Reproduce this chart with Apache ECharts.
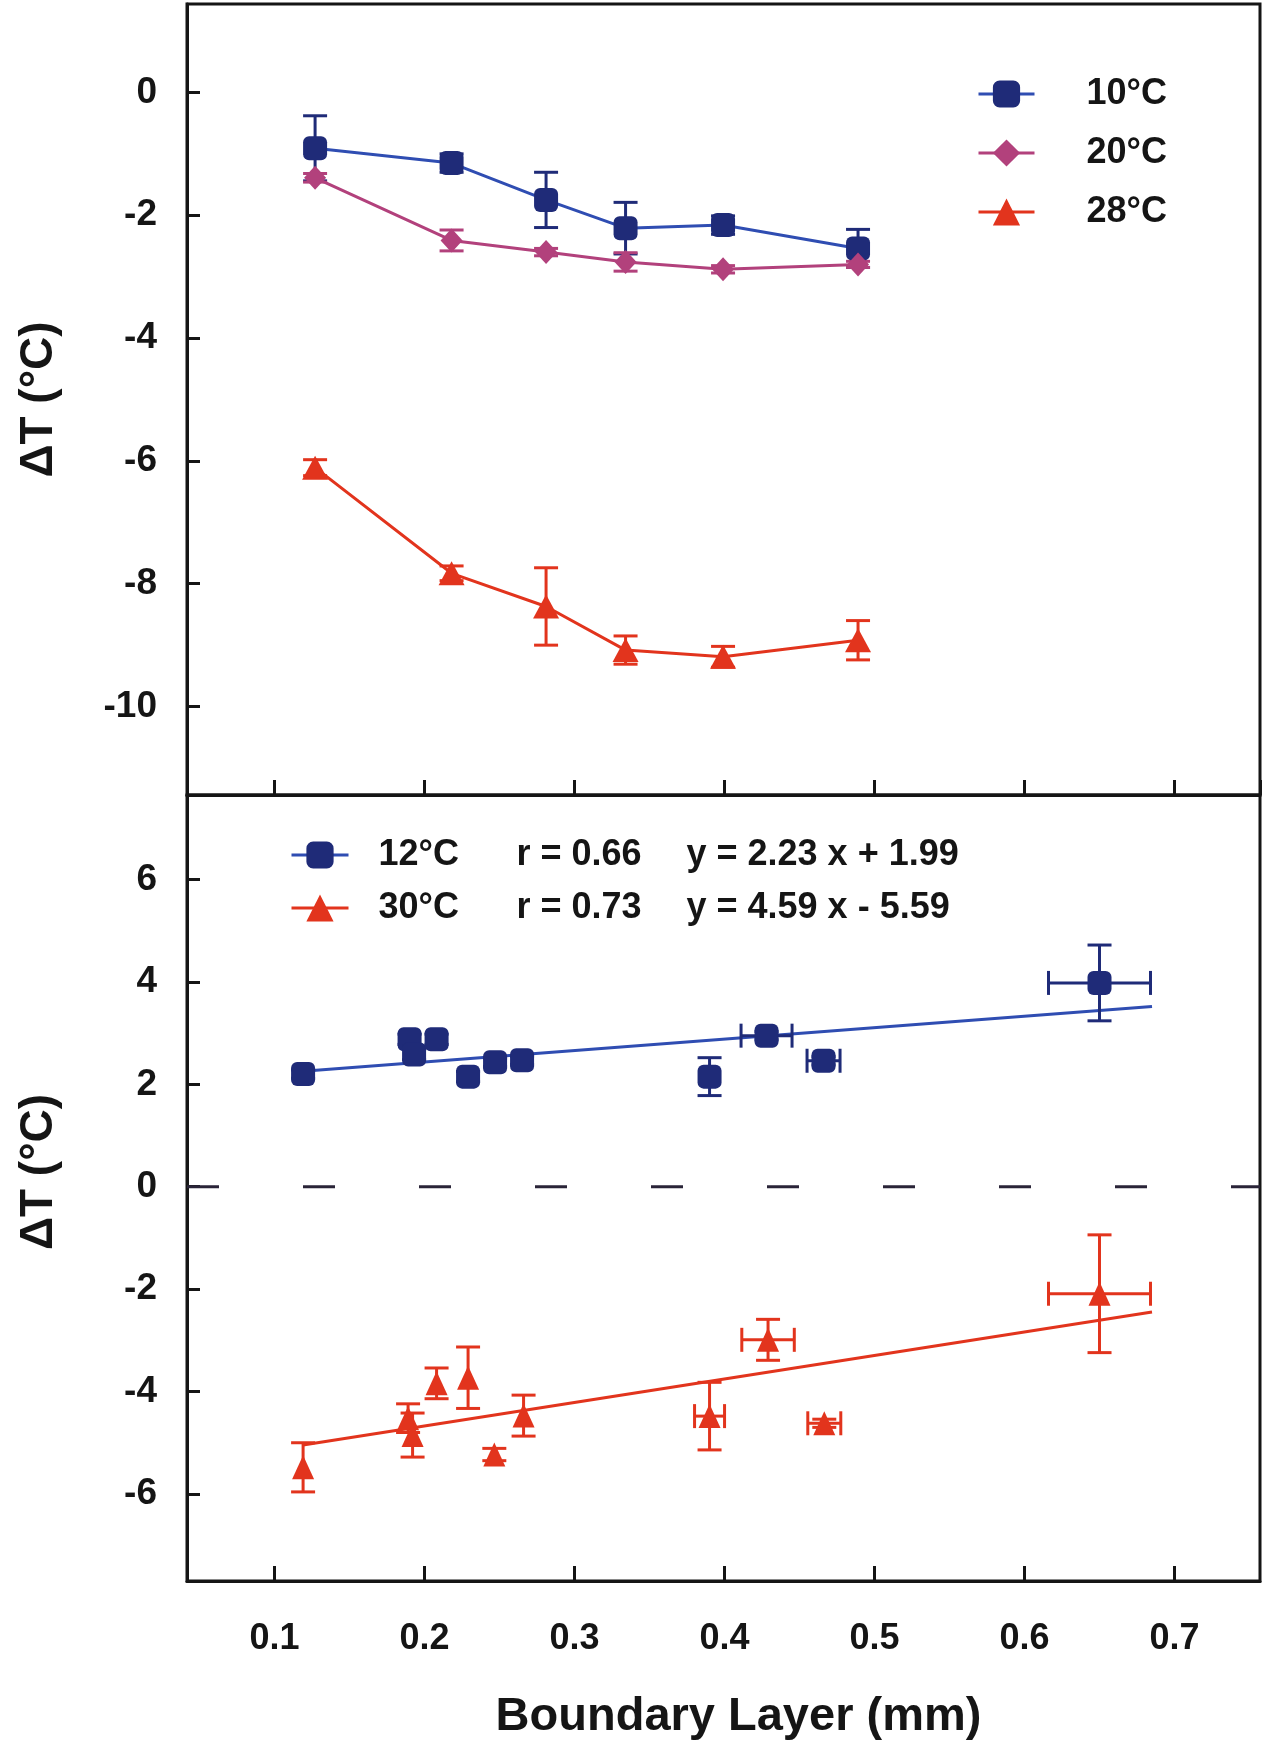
<!DOCTYPE html>
<html>
<head>
<meta charset="utf-8">
<script src="https://cdn.jsdelivr.net/npm/echarts@6/dist/echarts.min.js"></script>
<style>
html, body { margin: 0; padding: 0; background: #fff; }
#main { width: 1265px; height: 1742px; }
</style>
</head>
<body>
<div id="main"></div>
<script>
var FONT = '"Liberation Sans", Arial, Helvetica, sans-serif';

// top panel: mean dT per boundary layer, three water temps
var topNames = ['10°C', '20°C', '28°C'];
var topX = [0.127, 0.218, 0.281, 0.334, 0.399, 0.489];
var t10 = [-0.91, -1.15, -1.75, -2.21, -2.16, -2.54];
var t10Err = [0.53, 0.15, 0.45, 0.42, 0.15, 0.31];
var t20 = [-1.39, -2.41, -2.60, -2.76, -2.88, -2.80];
var t20Err = [0.07, 0.17, 0.06, 0.15, 0.06, 0.05];
var t28 = [-6.11, -7.83, -8.37, -9.08, -9.19, -8.92];
var t28Err = [0.13, 0.12, 0.63, 0.23, 0.17, 0.32];

// bottom panel: individual points + linear fits
var fitNames = ['12°C', '30°C'];
var rValues = [0.66, 0.73];
var slopes = [2.23, 4.59];
var intercepts = [1.99, -5.59];
var fitX = [0.119, 0.685];

var b12X = [0.119, 0.190, 0.193, 0.208, 0.229, 0.247, 0.265, 0.390, 0.428, 0.466, 0.650];
var b12Y = [2.20, 2.88, 2.58, 2.88, 2.15, 2.43, 2.47, 2.15, 2.95, 2.46, 3.98];
var b12YErr = [0.08, 0.10, 0.10, 0.10, 0.10, 0.08, 0.08, 0.37, 0.08, 0.08, 0.74];
var b12XErr = [0, 0, 0, 0, 0, 0, 0, 0, 0.017, 0.011, 0.034];

var b30X = [0.119, 0.189, 0.192, 0.208, 0.229, 0.2465, 0.266, 0.390, 0.429, 0.4665, 0.650];
var b30Y = [-5.48, -4.52, -4.85, -3.84, -3.73, -5.23, -4.47, -4.48, -2.99, -4.62, -2.09];
var b30YErr = [0.48, 0.28, 0.43, 0.30, 0.60, 0.12, 0.40, 0.66, 0.40, 0.08, 1.15];
var b30XErr = [0, 0, 0, 0, 0, 0, 0, 0.010, 0.0175, 0.011, 0.034];

// shared x range of both panels
var xMin = 0.0416, xMax = 0.757;

var navy = '#1f2b78';
var blueLine = '#2f4db2';
var pink = '#b2417c';
var red = '#e2341d';
var ink = '#151515';

function pairs(xs, ys) {
    return xs.map(function (x, i) { return [x, ys[i]]; });
}

function fitLine(i) {
    return fitX.map(function (x) { return [x, slopes[i] * x + intercepts[i]]; });
}

// error bars with caps, drawn through the axes
function errorBars(xs, ys, yErr, xErr, color, g) {
    return {
        type: 'custom',
        xAxisIndex: g,
        yAxisIndex: g,
        silent: true,
        z: 3,
        encode: { x: 0, y: 1 },
        data: xs.map(function (x, i) { return [x, ys[i], yErr[i], xErr ? xErr[i] : 0]; }),
        renderItem: function (params, api) {
            var x = api.value(0), y = api.value(1), ey = api.value(2), ex = api.value(3);
            var cap = 12;
            var st = { stroke: color, lineWidth: 3 };
            var kids = [];
            if (ey > 0) {
                var a = api.coord([x, y + ey]), b = api.coord([x, y - ey]);
                kids.push({ type: 'line', shape: { x1: a[0], y1: a[1], x2: b[0], y2: b[1] }, style: st });
                kids.push({ type: 'line', shape: { x1: a[0] - cap, y1: a[1], x2: a[0] + cap, y2: a[1] }, style: st });
                kids.push({ type: 'line', shape: { x1: b[0] - cap, y1: b[1], x2: b[0] + cap, y2: b[1] }, style: st });
            }
            if (ex > 0) {
                var l = api.coord([x - ex, y]), r = api.coord([x + ex, y]);
                kids.push({ type: 'line', shape: { x1: l[0], y1: l[1], x2: r[0], y2: r[1] }, style: st });
                kids.push({ type: 'line', shape: { x1: l[0], y1: l[1] - cap, x2: l[0], y2: l[1] + cap }, style: st });
                kids.push({ type: 'line', shape: { x1: r[0], y1: r[1] - cap, x2: r[0], y2: r[1] + cap }, style: st });
            }
            return { type: 'group', children: kids };
        }
    };
}

var tickFmt = function (v) {
    return Math.abs(v % 2) < 1e-9 ? String(Math.round(v)) : '';
};

function yAxis(g, min, max, nameShift) {
    return {
        gridIndex: g,
        type: 'value',
        min: min,
        max: max,
        splitNumber: 7,
        minInterval: 2,
        maxInterval: 2,
        axisLine: { show: true, onZero: false, lineStyle: { color: ink, width: 3 } },
        axisTick: { inside: true, length: 13, lineStyle: { color: ink, width: 3 } },
        axisLabel: {
            margin: 30, fontSize: 37, fontWeight: 'bold', color: ink, fontFamily: FONT,
            showMinLabel: false, showMaxLabel: false, formatter: tickFmt
        },
        splitLine: { show: false },
        name: 'ΔT (°C)',
        nameLocation: 'middle',
        nameGap: 125,
        nameTextStyle: {
            fontSize: 46, fontWeight: 'bold', color: ink, fontFamily: FONT,
            padding: nameShift
        }
    };
}

function xAxis(g, labels) {
    var ax = {
        gridIndex: g,
        type: 'value',
        min: xMin,
        max: xMax,
        splitNumber: 7,
        minInterval: 0.1,
        maxInterval: 0.1,
        axisLine: { show: true, onZero: false, lineStyle: { color: ink, width: 3 } },
        axisTick: { inside: true, length: 15, lineStyle: { color: ink, width: 3 } },
        axisLabel: { show: false },
        splitLine: { show: false }
    };
    if (labels) {
        ax.axisLabel = {
            show: true, margin: 40, fontSize: 36, fontWeight: 'bold', color: ink, fontFamily: FONT,
            showMinLabel: false, showMaxLabel: false,
            formatter: function (v) {
                return Math.abs(v * 10 - Math.round(v * 10)) < 1e-6 ? v.toFixed(1) : '';
            }
        };
        ax.name = 'Boundary Layer (mm)';
        ax.nameLocation = 'middle';
        ax.nameGap = 113;
        ax.nameTextStyle = {
            fontSize: 47, fontWeight: 'bold', color: ink, fontFamily: FONT,
            padding: [0, 0, 0, 30]
        };
    }
    return ax;
}

var chart = echarts.init(document.getElementById('main'));

var option = {
    animation: false,
    backgroundColor: '#fff',
    grid: [
        { left: 187, right: 5, top: 4, height: 791, show: true, borderColor: ink, borderWidth: 3 },
        { left: 187, right: 5, top: 795, height: 786, show: true, borderColor: ink, borderWidth: 3 }
    ],
    xAxis: [xAxis(0, false), xAxis(1, true)],
    yAxis: [yAxis(0, -11.44, 1.44, 0), yAxis(1, -7.70, 7.65, [0, 0, 0, 32])],
    legend: [
        {
            data: topNames,
            orient: 'vertical',
            left: 977,
            top: 76,
            padding: 0,
            itemWidth: 56,
            itemHeight: 34,
            itemGap: 23,
            selectedMode: false,
            lineStyle: { width: 3 },
            textStyle: {
                fontSize: 36, fontWeight: 'bold', color: ink, fontFamily: FONT,
                lineHeight: 34, padding: [0, 0, 0, 47]
            }
        },
        {
            data: fitNames,
            orient: 'vertical',
            left: 290,
            top: 837,
            padding: 0,
            itemWidth: 57,
            itemHeight: 34,
            itemGap: 17,
            selectedMode: false,
            lineStyle: { width: 3 },
            formatter: function (name) {
                var i = fitNames.indexOf(name);
                var b = intercepts[i];
                return '{a|' + name + '}{b|r = ' + rValues[i].toFixed(2) + '}{c|y = ' +
                    slopes[i].toFixed(2) + ' x ' + (b < 0 ? '- ' : '+ ') + Math.abs(b).toFixed(2) + '}';
            },
            textStyle: {
                fontSize: 36, fontWeight: 'bold', color: ink, fontFamily: FONT,
                lineHeight: 34, padding: [0, 0, 0, 25],
                rich: {
                    a: { width: 138, fontSize: 36, fontWeight: 'bold', color: ink, fontFamily: FONT },
                    b: { width: 170, fontSize: 36, fontWeight: 'bold', color: ink, fontFamily: FONT },
                    c: { fontSize: 36, fontWeight: 'bold', color: ink, fontFamily: FONT }
                }
            }
        }
    ],
    series: [
        errorBars(topX, t10, t10Err, null, navy, 0),
        errorBars(topX, t20, t20Err, null, pink, 0),
        errorBars(topX, t28, t28Err, null, red, 0),
        {
            name: topNames[0], type: 'line', xAxisIndex: 0, yAxisIndex: 0, z: 4,
            data: pairs(topX, t10), symbol: 'roundRect', symbolSize: 24,
            itemStyle: { color: navy }, lineStyle: { color: blueLine, width: 3 }
        },
        {
            name: topNames[1], type: 'line', xAxisIndex: 0, yAxisIndex: 0, z: 4,
            data: pairs(topX, t20), symbol: 'diamond', symbolSize: [22, 24],
            itemStyle: { color: pink }, lineStyle: { color: pink, width: 3 }
        },
        {
            name: topNames[2], type: 'line', xAxisIndex: 0, yAxisIndex: 0, z: 4,
            data: pairs(topX, t28), symbol: 'triangle', symbolSize: [26, 24],
            itemStyle: { color: red }, lineStyle: { color: red, width: 3 }
        },
        // fitted lines first so the legend icon shows line + marker
        {
            name: fitNames[0], type: 'line', xAxisIndex: 1, yAxisIndex: 1, z: 2,
            data: fitLine(0), symbol: 'roundRect', showSymbol: false,
            itemStyle: { color: navy }, lineStyle: { color: blueLine, width: 3 }
        },
        {
            name: fitNames[1], type: 'line', xAxisIndex: 1, yAxisIndex: 1, z: 2,
            data: fitLine(1), symbol: 'triangle', showSymbol: false,
            itemStyle: { color: red }, lineStyle: { color: red, width: 3 }
        },
        // dashed zero reference, left to right across the panel
        {
            name: 'zero', type: 'line', xAxisIndex: 1, yAxisIndex: 1, z: 1,
            data: [[xMin, 0], [xMax, 0]], showSymbol: false, silent: true,
            lineStyle: { color: '#2a2438', width: 3, type: [32, 84] }
        },
        errorBars(b12X, b12Y, b12YErr, b12XErr, navy, 1),
        errorBars(b30X, b30Y, b30YErr, b30XErr, red, 1),
        {
            name: fitNames[0], type: 'scatter', xAxisIndex: 1, yAxisIndex: 1, z: 4,
            data: pairs(b12X, b12Y), symbol: 'roundRect', symbolSize: 24,
            itemStyle: { color: navy, opacity: 1 }
        },
        {
            name: fitNames[1], type: 'scatter', xAxisIndex: 1, yAxisIndex: 1, z: 4,
            data: pairs(b30X, b30Y), symbol: 'triangle', symbolSize: [22, 24],
            itemStyle: { color: red, opacity: 1 }
        }
    ]
};

chart.setOption(option);
</script>
</body>
</html>
